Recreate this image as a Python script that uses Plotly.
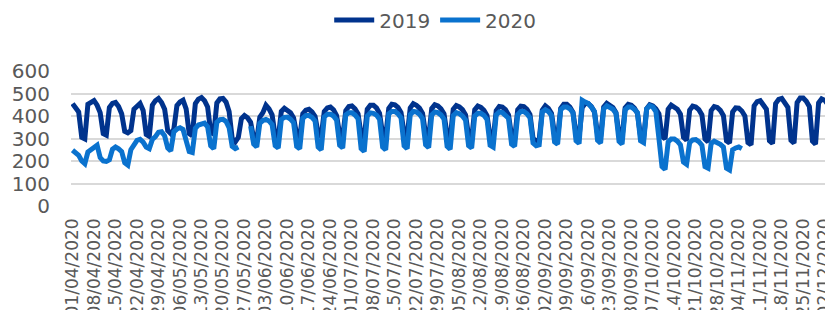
import pandas as pd
import plotly.graph_objects as go

# Categories: one per day from 01/04/2020
dates = [d.strftime("%d/%m/%Y") for d in pd.date_range("2020-04-01", periods=252, freq="D")]
tick_labels = dates[::7]

# Weekly rows: Wed, Thu, Fri, Sat, Sun, Mon, Tue
values_2019 = [
    455, 440, 418, 305, 298, 452, 462,
    468, 448, 415, 322, 315, 438, 456,
    460, 442, 410, 332, 325, 335, 430,
    445, 456, 425, 318, 310, 448, 468,
    478, 460, 430, 335, 322, 342, 446,
    462, 470, 432, 322, 312, 455, 475,
    482, 468, 440, 330, 318, 458, 476,
    478, 462, 420, 300, 285, 305, 388,
    402, 392, 372, 302, 292, 395, 415,
    448, 432, 405, 312, 300, 420, 434,
    425, 414, 392, 318, 305, 410, 426,
    430, 418, 398, 322, 310, 420, 436,
    440, 428, 402, 320, 308, 424, 442,
    445, 432, 410, 315, 302, 430, 448,
    448, 436, 412, 320, 308, 434, 452,
    450, 438, 415, 322, 310, 436, 455,
    448, 435, 412, 318, 305, 433, 450,
    445, 432, 410, 315, 300, 430, 446,
    440, 428, 405, 312, 298, 428, 444,
    438, 425, 402, 310, 295, 424, 442,
    440, 428, 405, 312, 298, 428, 444,
    442, 430, 406, 300, 290, 295, 426,
    445, 434, 412, 318, 305, 434, 452,
    452, 440, 416, 322, 310, 438, 456,
    455, 442, 418, 320, 308, 440, 456,
    450, 438, 415, 318, 305, 436, 452,
    448, 435, 412, 312, 300, 432, 450,
    445, 432, 410, 310, 298, 430, 448,
    442, 430, 408, 305, 292, 426, 444,
    440, 428, 405, 298, 285, 424, 442,
    438, 425, 402, 290, 280, 418, 436,
    435, 422, 400, 282, 272, 445, 464,
    468, 452, 430, 290, 278, 455, 474,
    478, 462, 438, 292, 280, 460, 480,
    480, 466, 442, 288, 275, 458, 476,
    470, 452, 360, 295, 282, 455, 468,
]

values_2020 = [
    248, 236, 225, 200, 188, 240, 252,
    265, 270, 215, 200, 198, 205, 252,
    262, 254, 242, 192, 182, 250, 268,
    292, 296, 284, 262, 255, 296, 308,
    328, 330, 312, 258, 245, 330, 342,
    348, 340, 290, 242, 238, 345, 360,
    362, 368, 352, 268, 255, 372, 384,
    385, 376, 348, 265, 255, 262, None,
    None, None, 355, 275, 262, 368, 380,
    385, 378, 362, 268, 258, 384, 394,
    395, 386, 370, 265, 255, 390, 402,
    402, 394, 378, 262, 250, 396, 408,
    408, 400, 382, 270, 258, 405, 415,
    415, 405, 388, 255, 242, 400, 414,
    412, 404, 386, 262, 250, 410, 420,
    420, 410, 392, 268, 255, 406, 420,
    418, 408, 388, 272, 260, 405, 418,
    415, 405, 386, 265, 252, 402, 415,
    410, 400, 382, 268, 258, 400, 412,
    412, 403, 385, 270, 262, 405, 418,
    415, 405, 390, 275, 265, 406, 420,
    420, 410, 392, 280, 268, 272, 418,
    428, 420, 402, 285, 275, 428, 440,
    440, 432, 414, 290, 278, 470, 462,
    455, 440, 420, 292, 280, 432, 445,
    438, 430, 412, 288, 275, 428, 440,
    440, 430, 415, 290, 282, 432, 446,
    440, 420, 300, 175, 162, 285, 298,
    298, 288, 272, 195, 185, 282, 294,
    295, 286, 270, 175, 168, 278, 288,
    282, 274, 262, 168, 160, 250, 258,
    262, 255,
]

series_names = ["2019", "2020"]
series_colors = ["#00338D", "#0A72CE"]

fig = go.Figure()
for name, vals, col in zip(series_names, [values_2019, values_2020], series_colors):
    fig.add_trace(go.Scatter(
        x=dates[:len(vals)], y=vals, name=name, mode="lines",
        line=dict(color=col, width=5), connectgaps=False,
    ))

font_family = "DejaVu Sans, sans-serif"
fig.update_layout(
    width=833, height=310,
    margin=dict(l=63, r=0, t=63, b=112, autoexpand=False),
    paper_bgcolor="white", plot_bgcolor="white",
    font=dict(family=font_family, color="#595959"),
    showlegend=True,
    legend=dict(orientation="h", x=0.473, xanchor="center", y=1.378, yanchor="middle",
                font=dict(size=20, color="#595959"), itemwidth=40,
                bgcolor="rgba(0,0,0,0)"),
    xaxis=dict(type="category", range=[-0.5, 250.3], showgrid=False, zeroline=False,
               showline=False, tickmode="array", tickvals=tick_labels, ticktext=tick_labels,
               tickangle=-90, tickfont=dict(size=17, color="#595959"), ticks="",
               ticklabelstandoff=8, automargin=False),
    yaxis=dict(range=[0, 600], dtick=100, showgrid=True, gridcolor="#D9D9D9", gridwidth=1.5,
               zeroline=False, showline=False, ticks="", automargin=False,
               tickfont=dict(size=20, color="#595959"), ticklabelstandoff=20),
)

fig.write_html("out.html")
